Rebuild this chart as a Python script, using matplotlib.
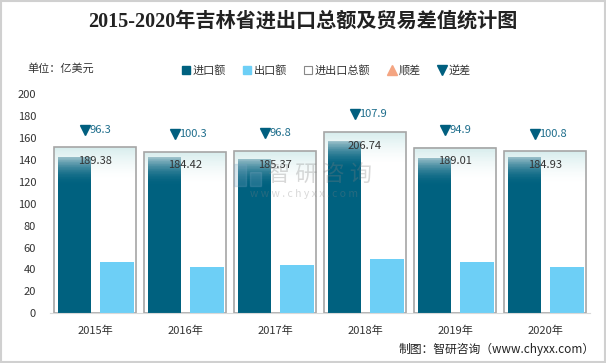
import numpy as np
import matplotlib
matplotlib.use("Agg")
import matplotlib.pyplot as plt
from matplotlib.colors import to_rgb
from matplotlib.lines import Line2D
from matplotlib.patches import Rectangle

plt.rcParams['font.family'] = ['Noto Sans CJK SC', 'DejaVu Sans']

# Data (亿美元)
years = ['2015年', '2016年', '2017年', '2018年', '2019年', '2020年']
imports = [142.84, 142.36, 141.09, 157.32, 141.96, 142.87]
exports = [46.54, 42.06, 44.29, 49.42, 47.06, 42.07]
totals = [189.38, 184.42, 185.37, 206.74, 189.01, 184.93]
balance = [-96.3, -100.3, -96.8, -107.9, -94.9, -100.8]

# the total box is drawn shrunk (as in the original chart)
box_scale = 0.8

c_imp = '#00617f'
c_exp = '#6dcff6'
c_edge = '#a6a6a6'
c_down = '#005f7f'
c_up = '#f4a582'


def gradient_bar(ax, xc, width, top, length, bottom_col, top_col, power, z, n=40):
    # fills the top part of a bar with thin slices going from bottom_col up to top_col
    b, t = np.array(to_rgb(bottom_col)), np.array(to_rgb(top_col))
    step = length / n
    for k in range(n):
        f = ((k + 0.5) / n) ** power
        ax.bar(xc, step * 1.02, width=width, bottom=top - length + k * step,
               color=b * (1 - f) + t * f, linewidth=0, zorder=z)


fig = plt.figure(figsize=(6.06, 3.63), dpi=100)
ax = fig.add_axes([50 / 606, 1 - 313.3 / 363, 540 / 606, 219.3 / 363])

x = np.arange(len(years))
box_w = 0.915
imp_off, imp_w = -0.233, 0.367
exp_off, exp_w = 0.239, 0.378

for i, xi in enumerate(x):
    h = totals[i] * box_scale
    # total box: white with a light teal fade at the top
    ax.bar(xi, h, width=box_w, color='white', edgecolor='none', zorder=1)
    gradient_bar(ax, xi, box_w, h, 30, '#ffffff', '#d6ecec', 1.6, 1.2)
    ax.bar(xi, h, width=box_w, color='none', edgecolor=c_edge, linewidth=1.2, zorder=1.4)
    # import bar with lighter top
    ax.bar(xi + imp_off, imports[i], width=imp_w, color=c_imp, linewidth=0, zorder=2)
    gradient_bar(ax, xi + imp_off, imp_w, imports[i], 26, c_imp, '#a0c3cc', 2.0, 2.2)
    ax.bar(xi + exp_off, exports[i], width=exp_w, color=c_exp, linewidth=0, zorder=2)

    ax.text(xi, h - 12.7, f'{totals[i]:.2f}', ha='center', va='center', fontsize=8,
            color='#333333', zorder=4)

    # trade balance marker
    ym = h + 16
    if balance[i] < 0:
        ax.plot(xi - 0.11, ym, marker='v', color=c_down, markersize=7, zorder=4)
        col = '#1f6e8c'
    else:
        ax.plot(xi - 0.11, ym, marker='^', color=c_up, markersize=7, zorder=4)
        col = '#d9785a'
    ax.text(xi - 0.065, ym, f'{abs(balance[i]):g}', ha='left', va='center', fontsize=8,
            color=col, zorder=4)

ax.set_xlim(-0.5, len(years) - 0.5)
ax.set_ylim(0, 200)
ax.set_yticks(range(0, 201, 20))
ax.set_xticks(x)
ax.set_xticklabels(years)
ax.tick_params(length=0, labelsize=8, colors='#333333')
ax.tick_params(axis='x', pad=9)
ax.tick_params(axis='y', pad=10)
for s in ['top', 'right', 'left']:
    ax.spines[s].set_visible(False)
ax.spines['bottom'].set_color('#d9d9d9')

# watermark
wm = '#808080'
fig.text(320 / 606, 1 - 175 / 363, '智 研 咨 询', fontsize=16, color=wm, alpha=0.3,
         ha='center', va='center', zorder=10)
fig.text(304 / 606, 1 - 194 / 363, 'w w w . c h y x x . c o m', fontsize=7.5, color=wm,
         alpha=0.3, ha='center', va='center', zorder=10)
fig.patches.append(Rectangle((234 / 606, 1 - 186 / 363), 12 / 606, 22 / 363, transform=fig.transFigure,
                             color='#7aa6c2', alpha=0.25, zorder=10))
fig.patches.append(Rectangle((250 / 606, 1 - 186 / 363), 11 / 606, 14 / 363, transform=fig.transFigure,
                             color='#7aa6c2', alpha=0.25, zorder=10))

# titles
fig.text(303 / 606, 1 - 22 / 363, '2015-2020年吉林省进出口总额及贸易差值统计图', ha='center', va='center',
         fontsize=14.5, fontweight='bold', color='#222222',
         family=['Liberation Serif', 'Noto Sans CJK SC'])
fig.text(27 / 606, 1 - 68 / 363, '单位：亿美元', ha='left', va='center', fontsize=8, color='#333333')
fig.text(595 / 606, 1 - 349 / 363, '制图：智研咨询（www.chyxx.com）', ha='right', va='center',
         fontsize=8.5, color='#222222')

handles = [
    Line2D([], [], marker='s', linestyle='none', color=c_imp, markersize=6),
    Line2D([], [], marker='s', linestyle='none', color=c_exp, markersize=6),
    Line2D([], [], marker='s', linestyle='none', markerfacecolor='white', markeredgecolor='#888888',
           markersize=6, markeredgewidth=0.8),
    Line2D([], [], marker='^', linestyle='none', color=c_up, markersize=7),
    Line2D([], [], marker='v', linestyle='none', color=c_down, markersize=7),
]
labels = ['进口额', '出口额', '进出口总额', '顺差', '逆差']
fig.legend(handles, labels, loc='center', bbox_to_anchor=(326 / 606, 1 - 70 / 363), ncol=5,
           frameon=False, fontsize=8, handlelength=0.8, handletextpad=0.2, columnspacing=1.5,
           labelcolor='#333333')

# light border around the figure
fig.patches.append(Rectangle((0.002, 0.003), 0.996, 0.994, transform=fig.transFigure,
                             fill=False, edgecolor='#d0d0d0', linewidth=1.5))

fig.savefig('out.png', dpi=100)
